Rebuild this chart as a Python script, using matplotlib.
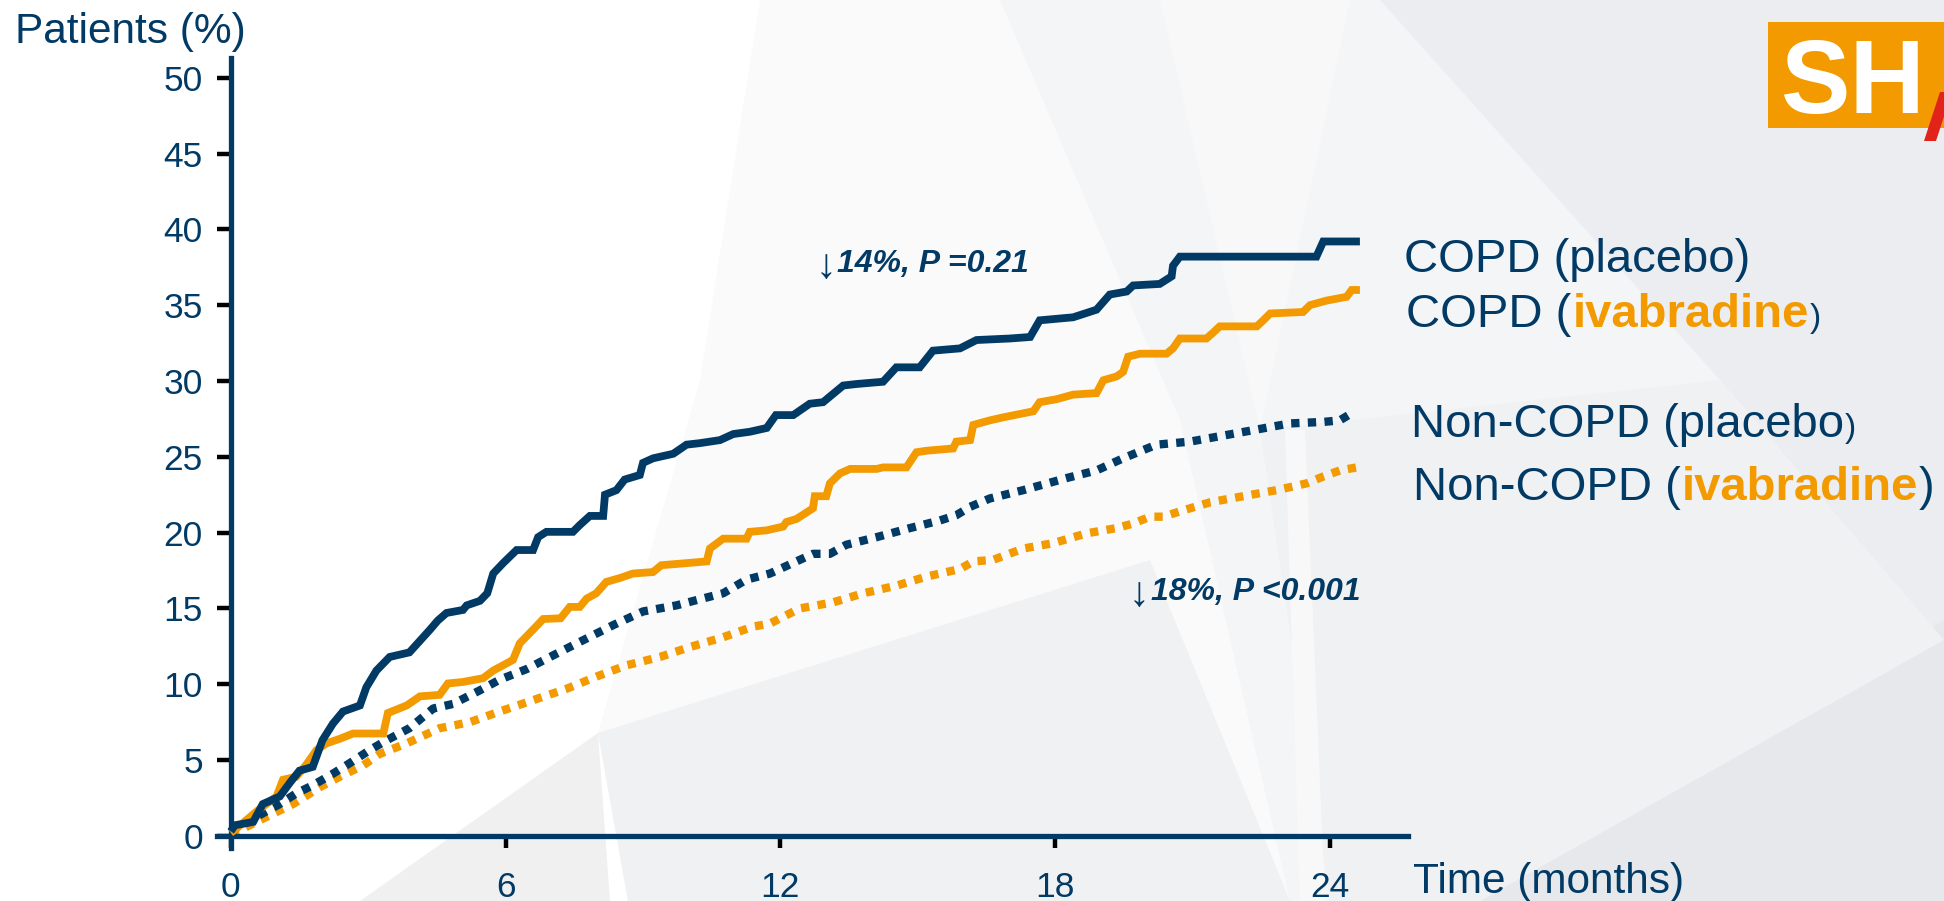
import matplotlib
matplotlib.use("Agg")
import matplotlib.pyplot as plt
from matplotlib.patches import Polygon, Rectangle

plt.rcParams['font.family'] = ['Liberation Sans', 'DejaVu Sans']

NAVY = "#023A66"
ORANGE = "#F29A00"

# Cumulative event curves (months, % of patients)
copd_placebo_t = [0, 0.09, 0.49, 0.7, 1.07, 1.29, 1.5, 1.79, 2.0, 2.23, 2.45, 2.82, 2.96, 3.18,
                  3.47, 3.9, 4.35, 4.52, 4.71, 5.07, 5.15, 5.44, 5.6, 5.73, 5.95, 6.24, 6.6, 6.71,
                  6.89, 7.47, 7.62, 7.84, 8.13, 8.17, 8.42, 8.6, 8.93, 9.0, 9.22, 9.66, 9.95,
                  10.24, 10.68, 10.97, 11.33, 11.7, 11.9, 12.28, 12.64, 12.93, 13.37, 13.66,
                  14.24, 14.53, 15.04, 15.33, 15.92, 16.28, 17.0, 17.45, 17.66, 18.39, 18.9,
                  19.19, 19.56, 19.7, 20.28, 20.54, 20.57, 20.72, 23.7, 23.85, 24.65]
copd_placebo_pct = [0.3, 0.7, 0.92, 2.1, 2.6, 3.5, 4.3, 4.55, 6.3, 7.4, 8.2, 8.6, 9.8, 10.9,
                    11.8, 12.1, 13.6, 14.2, 14.7, 14.9, 15.2, 15.5, 16.0, 17.3, 18.0, 18.85,
                    18.85, 19.7, 20.05, 20.05, 20.5, 21.1, 21.1, 22.5, 22.8, 23.5, 23.8, 24.6,
                    24.9, 25.2, 25.8, 25.9, 26.1, 26.5, 26.65, 26.9, 27.75, 27.75, 28.5, 28.6,
                    29.7, 29.8, 29.95, 30.9, 30.9, 32.0, 32.15, 32.7, 32.8, 32.9, 34.0, 34.2,
                    34.7, 35.7, 35.9, 36.3, 36.4, 36.9, 37.6, 38.2, 38.2, 39.2, 39.2]

copd_ivab_t = [0, 0.09, 0.56, 1.0, 1.14, 1.43, 1.65, 1.87, 2.09, 2.38, 2.67, 3.33, 3.43, 3.84,
               4.13, 4.56, 4.74, 5.07, 5.51, 5.73, 6.16, 6.31, 6.6, 6.82, 7.2, 7.4, 7.62, 7.77,
               7.98, 8.2, 8.49, 8.78, 9.22, 9.4, 9.8, 10.39, 10.46, 10.75, 11.26, 11.33, 11.7,
               12.06, 12.13, 12.35, 12.71, 12.75, 13.0, 13.08, 13.3, 13.52, 14.1, 14.24, 14.75,
               14.97, 15.19, 15.77, 15.84, 16.14, 16.21, 16.57, 16.86, 17.52, 17.66, 18.03,
               18.39, 18.9, 19.05, 19.34, 19.48, 19.59, 19.85, 20.43, 20.57, 20.72, 21.3,
               21.45, 21.59, 22.4, 22.54, 22.69, 23.41, 23.56, 23.92, 24.36, 24.47, 24.65]
copd_ivab_pct = [0.2, 0.4, 1.6, 2.6, 3.7, 3.9, 4.7, 5.65, 6.1, 6.4, 6.75, 6.75, 8.1, 8.6, 9.2,
                 9.3, 10.05, 10.15, 10.4, 10.9, 11.6, 12.7, 13.6, 14.3, 14.35, 15.1, 15.1, 15.65,
                 16.0, 16.75, 17.0, 17.3, 17.4, 17.85, 17.95, 18.1, 18.95, 19.6, 19.6, 20.05,
                 20.15, 20.4, 20.7, 20.9, 21.6, 22.4, 22.4, 23.25, 23.9, 24.2, 24.2, 24.3, 24.3,
                 25.3, 25.4, 25.55, 26.0, 26.1, 27.1, 27.4, 27.6, 28.0, 28.6, 28.8, 29.1, 29.2,
                 30.05, 30.3, 30.6, 31.6, 31.8, 31.8, 32.15, 32.8, 32.8, 33.2, 33.6, 33.6,
                 34.0, 34.45, 34.55, 35.0, 35.3, 35.55, 36.0, 36.0]

noncopd_placebo_t = [0, 0.12, 0.63, 1.07, 1.43, 1.8, 2.23, 2.6, 3.03, 3.4, 3.9, 4.42, 4.85,
                     5.44, 5.87, 6.46, 6.97, 7.69, 8.35, 9.0, 9.73, 10.17, 10.75, 11.26, 11.77,
                     12.42, 12.71, 13.08, 13.44, 14.1, 14.83, 15.48, 15.84, 16.14, 16.57, 17.3,
                     18.25, 18.9, 19.48, 20.21, 20.94, 21.67, 22.4, 23.12, 23.85, 24.21, 24.54]
noncopd_placebo_pct = [0.2, 0.5, 1.37, 2.1, 2.8, 3.35, 4.1, 4.8, 5.65, 6.3, 7.1, 8.4, 8.7, 9.6,
                       10.3, 11.0, 11.8, 12.9, 13.9, 14.8, 15.2, 15.55, 16.0, 16.9, 17.3, 18.2,
                       18.6, 18.6, 19.2, 19.7, 20.3, 20.8, 21.15, 21.7, 22.25, 22.8, 23.6, 24.1,
                       24.9, 25.8, 26.0, 26.4, 26.8, 27.2, 27.3, 27.4, 28.0]

noncopd_ivab_t = [0, 0.12, 0.78, 1.36, 1.94, 2.38, 2.89, 3.25, 3.84, 4.56, 5.22, 5.87, 6.6,
                  7.33, 7.98, 8.64, 9.37, 10.02, 10.75, 11.4, 11.77, 12.42, 13.15, 13.81, 14.53,
                  15.19, 15.92, 16.21, 16.64, 17.3, 17.95, 18.68, 19.34, 19.7, 20.07, 20.36,
                  20.72, 21.38, 22.1, 22.83, 23.49, 23.85, 24.21, 24.58]
noncopd_ivab_pct = [0.1, 0.26, 1.25, 2.1, 3.2, 3.9, 4.65, 5.4, 6.1, 7.1, 7.5, 8.2, 8.95, 9.7,
                    10.5, 11.25, 11.8, 12.45, 13.1, 13.8, 14.0, 15.0, 15.4, 16.0, 16.5, 17.1,
                    17.6, 18.1, 18.2, 18.95, 19.3, 19.95, 20.3, 20.6, 21.05, 21.05, 21.4, 22.0,
                    22.4, 22.8, 23.25, 23.7, 24.1, 24.3]

x_ticks = [0, 6, 12, 18, 24]
y_ticks = [0, 5, 10, 15, 20, 25, 30, 35, 40, 45, 50]

W, H = 1944, 901
fig = plt.figure(figsize=(W / 100, H / 100), dpi=100)
fig.patch.set_facecolor("white")


def fpt(x, y):
    return (x / W, 1 - y / H)


def bg_poly(pts, color):
    fig.patches.append(Polygon([fpt(*p) for p in pts], closed=True, transform=fig.transFigure,
                               facecolor=color, edgecolor="none", zorder=-10))


# faceted light-grey backdrop
bg_poly([(760, 0), (1944, 0), (1944, 901), (628, 901), (598, 733), (700, 380)], "#fafafb")
bg_poly([(1000, 0), (1944, 0), (1944, 901), (1290, 901), (1180, 420)], "#f4f5f7")
bg_poly([(598, 733), (628, 901), (1290, 901), (1150, 560)], "#f0f1f3")
bg_poly([(1160, 0), (1350, 0), (1260, 430)], "#f8f8f9")
bg_poly([(1380, 0), (1944, 0), (1944, 640), (1720, 380)], "#ebedf0")
bg_poly([(1480, 901), (1944, 620), (1944, 901)], "#e6e8eb")
bg_poly([(1260, 430), (1720, 380), (1944, 640), (1480, 901), (1330, 901)], "#f0f1f3")
bg_poly([(360, 901), (598, 733), (610, 901)], "#f0f0f1")
bg_poly([(1285, 430), (1305, 430), (1325, 901), (1300, 901)], "#f8f8f9")

ax = fig.add_axes([217 / W, 1 - 848 / H, (1408 - 217) / W, (848 - 58) / H])
ax.patch.set_alpha(0)
ax.set_xlim(-0.3, 25.7)
ax.set_ylim(-0.8, 51.3)

for side in ("top", "right"):
    ax.spines[side].set_visible(False)
for side in ("left", "bottom"):
    ax.spines[side].set_position(("data", 0))
    ax.spines[side].set_color(NAVY)
    ax.spines[side].set_linewidth(3.8)

ax.set_xticks(x_ticks)
ax.set_yticks(y_ticks)
ax.tick_params(axis="y", direction="out", length=10, width=3.2, color="black",
               labelcolor=NAVY, labelsize=25.5, pad=10)
ax.tick_params(axis="x", direction="out", length=8.5, width=3.2, color="black",
               labelcolor=NAVY, labelsize=25.5, pad=17)

ax.plot(copd_placebo_t, copd_placebo_pct, color=NAVY, lw=5.6, solid_joinstyle="miter",
        solid_capstyle="butt", zorder=5, clip_on=False)
ax.plot(copd_ivab_t, copd_ivab_pct, color=ORANGE, lw=5.6, solid_joinstyle="miter",
        solid_capstyle="butt", zorder=4, clip_on=False)
ax.plot(noncopd_placebo_t, noncopd_placebo_pct, color=NAVY, lw=6.0, dashes=(1.0, 1.0),
        dash_capstyle="butt", zorder=3, clip_on=False)
ax.plot(noncopd_ivab_t, noncopd_ivab_pct, color=ORANGE, lw=6.0, dashes=(1.0, 1.0),
        dash_capstyle="butt", zorder=2, clip_on=False)

# axis titles
fig.text(*fpt(15, 43), "Patients (%)", color=NAVY, fontsize=30.5, va="baseline", ha="left")
fig.text(*fpt(1413, 893), "Time (months)", color=NAVY, fontsize=30.5, va="baseline", ha="left")

renderer = fig.canvas.get_renderer()


def runs(x, y, parts):
    """Write text pieces side by side on one baseline, each with its own style."""
    for s, kw, dy in parts:
        t = fig.text(*fpt(x, y + dy), s, va="baseline", ha="left", **kw)
        x += t.get_window_extent(renderer).width + 1


reg = dict(color=NAVY, fontsize=34)
bold_or = dict(color=ORANGE, fontsize=34, fontweight="bold")
small = dict(color=NAVY, fontsize=24)

runs(1404, 272, [("COPD (placebo)", reg, 0)])
runs(1406, 327, [("COPD (", reg, 0), ("ivabradine", bold_or, 0), (")", small, 0)])
runs(1411, 437, [("Non-COPD (placebo", reg, 0), (")", small, 0)])
runs(1413, 500, [("Non-COPD (", reg, 0), ("ivabradine", bold_or, 0), (")", reg, 0)])

arrow_kw = dict(color=NAVY, fontsize=30)
bi_kw = dict(color=NAVY, fontsize=23, fontweight="bold", fontstyle="italic")
runs(815, 272, [("\u2193", arrow_kw, 6), ("14%, P =0.21", bi_kw, 0)])
runs(1129, 600, [("\u2193", arrow_kw, 6), ("18%, P <0.001", bi_kw, 0)])

# corner badge
fig.patches.append(Rectangle(fpt(1768, 128), (1944 - 1768) / W, (128 - 22) / H,
                             transform=fig.transFigure, facecolor="#F29A00",
                             edgecolor="none", zorder=1))
fig.text(*fpt(1781, 113), "SH", color="white", fontsize=75, fontweight="bold",
         va="baseline", ha="left", zorder=2)
fig.patches.append(Polygon([fpt(1924, 141), fpt(1936, 141), fpt(1952, 92), fpt(1940, 92)],
                           closed=True, transform=fig.transFigure, facecolor="#E2231A",
                           edgecolor="none", zorder=3))

fig.savefig("out.png", dpi=100, facecolor=fig.get_facecolor())
